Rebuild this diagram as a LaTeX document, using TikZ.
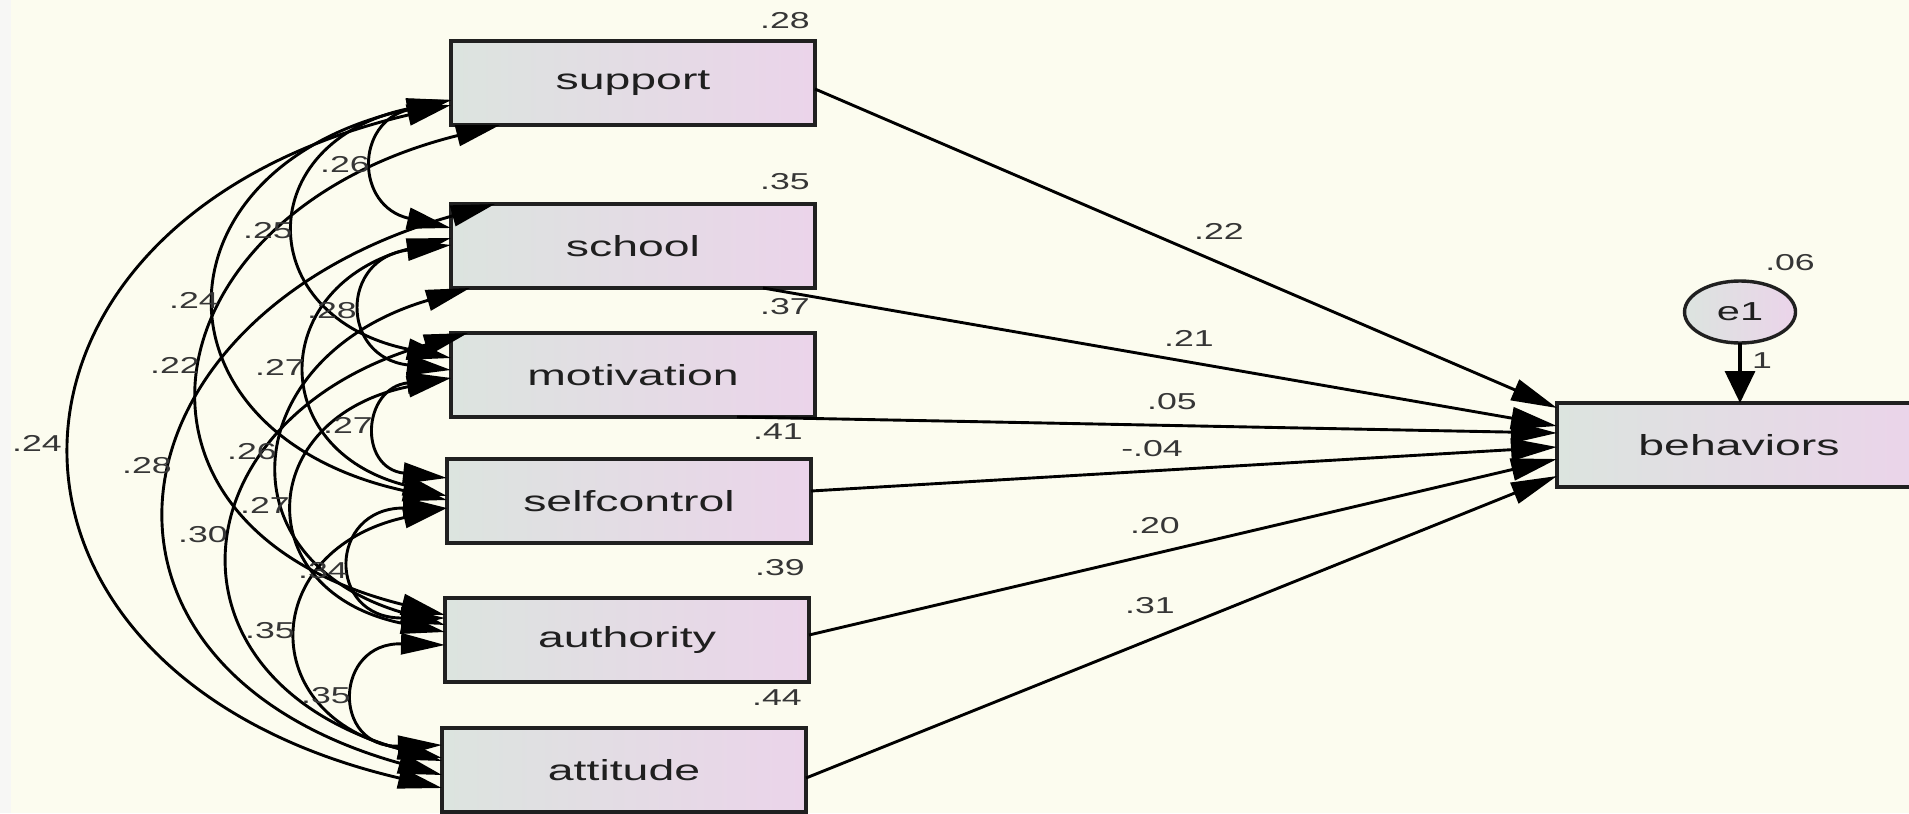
\documentclass[tikz,border=0pt]{standalone}
\usepackage{fontspec}
\usetikzlibrary{arrows.meta,calc,shapes.geometric}
\newfontfamily\boxfont[FakeStretch=1.6]{Liberation Sans}
\newfontfamily\numfont[FakeStretch=1.55]{Liberation Sans}
\definecolor{bgcream}{HTML}{FCFCEF}
\definecolor{stripgray}{HTML}{F7F7F5}
\definecolor{boxleft}{HTML}{DCE4DF}
\definecolor{boxright}{HTML}{EBD4EA}
\definecolor{edge}{HTML}{202020}
\definecolor{numgray}{HTML}{363636}

\begin{document}
\begin{tikzpicture}[x=0.5pt,y=-0.5pt,
  var/.style={draw=edge, line width=1.7pt, left color=boxleft, right color=boxright,
    minimum width=182pt, minimum height=42pt, inner sep=0pt, outer sep=0pt,
    font=\boxfont\fontsize{14.5pt}{17pt}\selectfont, text=black!88},
  errvar/.style={ellipse, draw=edge, line width=1.7pt, left color=boxleft, right color=boxright,
    minimum width=55.5pt, minimum height=31pt, inner sep=0pt, outer sep=0pt,
    font=\boxfont\fontsize{13pt}{15pt}\selectfont, text=black!88},
  num/.style={font=\numfont\fontsize{11.5pt}{13pt}\selectfont, text=numgray, inner sep=0pt},
  cov/.style={draw=black, line width=1.45pt,
    arrows={Triangle[length=22pt,width=10.5pt]-Triangle[length=22pt,width=10.5pt]}},
  regpath/.style={draw=black, line width=1.45pt, -{Triangle[length=23pt,width=11pt]}},
  errpath/.style={draw=black, line width=1.7pt, -{Triangle[length=16pt,width=15pt]}}
]
% canvas
\useasboundingbox (0,0) rectangle (1909,813);
\clip (0,0) rectangle (1909,813);
\fill[bgcream] (0,0) rectangle (1909,813);
\fill[stripgray] (0,0) rectangle (11,813);

% observed variables
\node[var] (support)     at (633,83)  {support};
\node[var] (school)      at (633,246) {school};
\node[var] (motivation)  at (633,375) {motivation};
\node[var] (selfcontrol) at (629,501) {selfcontrol};
\node[var] (authority)   at (627,640) {authority};
\node[var] (attitude)    at (624,770) {attitude};
\node[var] (behaviors)   at (1739,445) {behaviors};
\node[errvar] (e1)       at (1740,312) {e1};

% squared multiple correlations
\node[num] (r2support)     at (785,21)   {.28};
\node[num] (r2school)      at (785,182)  {.35};
\node[num] (r2motivation)  at (785,307)  {.37};
\node[num] (r2selfcontrol) at (778,432)  {.41};
\node[num] (r2authority)   at (780,568)  {.39};
\node[num] (r2attitude)    at (777,698)  {.44};
\node[num] (r2behaviors)   at (1790,263) {.06};

% covariances among the predictors
\draw[cov] ($(support.west)+(0,17)$) .. controls +(-96,22) and +(-96,-22) .. ($(school.west)+(0,-18)$);
\draw[cov] ($(support.west)+(0,17)$) .. controls +(-200,41) and +(-200,-41) .. ($(motivation.west)+(0,-17)$);
\draw[cov] ($(support.west)+(0,17)$) .. controls +(-303,66) and +(-303,-66) .. ($(selfcontrol.west)+(0,-1)$);
\draw[cov] ($(support.south)+(-133,0)$) .. controls +(-354,88) and +(-354,-88) .. ($(authority.west)+(0,-25)$);
\draw[cov] ($(support.west)+(0,22)$) .. controls +(-492,115) and +(-492,-115) .. ($(attitude.west)+(0,18)$);
\draw[cov] ($(school.west)+(0,-1)$) .. controls +(-111,13) and +(-111,-13) .. ($(motivation.west)+(0,-5)$);
\draw[cov] ($(school.west)+(0,-8)$) .. controls +(-182,47) and +(-182,-47) .. ($(selfcontrol.west)+(0,-5)$);
\draw[cov] ($(school.south)+(-163,0)$) .. controls +(-229,67) and +(-229,-67) .. ($(authority.west)+(0,-15)$);
\draw[cov] ($(school.north)+(-138,0)$) .. controls +(-393,110) and +(-393,-110) .. ($(attitude.west)+(0,5)$);
\draw[cov] ($(motivation.west)+(0,3)$) .. controls +(-89,10) and +(-89,-10) .. ($(selfcontrol.west)+(0,-23)$);
\draw[cov] ($(motivation.west)+(0,3)$) .. controls +(-197,40) and +(-197,-40) .. ($(authority.west)+(0,-8)$);
\draw[cov] ($(motivation.north)+(-165,0)$) .. controls +(-292,83) and +(-292,-83) .. ($(attitude.west)+(0,-9)$);
\draw[cov] ($(selfcontrol.west)+(0,7)$) .. controls +(-119,0) and +(-119,0) .. ($(authority.west)+(0,-22)$);
\draw[cov] ($(selfcontrol.west)+(0,7)$) .. controls +(-188,42) and +(-188,-42) .. ($(attitude.west)+(0,-12)$);
\draw[cov] ($(authority.west)+(0,5)$) .. controls +(-111,-3) and +(-111,3) .. ($(attitude.west)+(0,-25)$);

% covariance estimates
\node[num] (csupsch)   at (345,165) {.26};
\node[num] (csupmot)   at (268,231) {.25};
\node[num] (csupself)  at (194,300) {.24};
\node[num] (csupauth)  at (175,365) {.22};
\node[num] (csupatt)   at (37,443)  {.24};
\node[num] (cschmot)   at (332,311) {.28};
\node[num] (cschself)  at (280,367) {.27};
\node[num] (cschauth)  at (252,452) {.26};
\node[num] (cschatt)   at (147,466) {.28};
\node[num] (cmotself)  at (348,425) {.27};
\node[num] (cmotauth)  at (265,505) {.27};
\node[num] (cmotatt)   at (203,535) {.30};
\node[num] (cselfauth) at (323,571) {.34};
\node[num] (cselfatt)  at (270,631) {.35};
\node[num] (cauthatt)  at (326,696) {.35};

% regression paths
\draw[regpath] ($(support.east)+(0,6)$)      -- ($(behaviors.west)+(0,-37)$);
\draw[regpath] ($(school.south)+(130,0)$)    -- ($(behaviors.west)+(0,-19)$);
\draw[regpath] ($(motivation.south)+(104,0)$) -- ($(behaviors.west)+(0,-12)$);
\draw[regpath] ($(selfcontrol.east)+(0,-10)$) -- ($(behaviors.west)+(0,2)$);
\draw[regpath] ($(authority.east)+(0,-5)$)   -- ($(behaviors.west)+(0,14)$);
\draw[regpath] ($(attitude.east)+(0,8)$)     -- ($(behaviors.west)+(0,31)$);
\draw[errpath] (e1.south) -- (e1.south |- behaviors.north);

% path coefficients
\node[num] (bsup)  at (1219,231) {.22};
\node[num] (bsch)  at (1189,338) {.21};
\node[num] (bmot)  at (1172,402) {.05};
\node[num] (bself) at (1152,449) {-.04};
\node[num] (bauth) at (1155,526) {.20};
\node[num] (batt)  at (1150,606) {.31};
\node[num] (be1)   at (1762,361) {1};
\end{tikzpicture}
\end{document}
